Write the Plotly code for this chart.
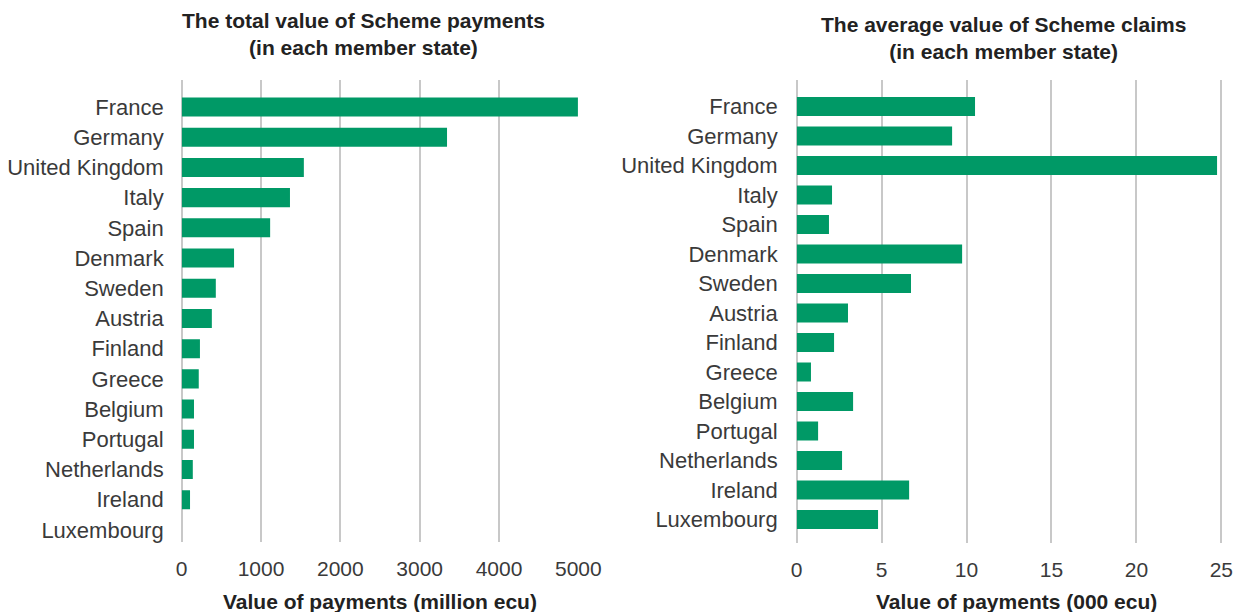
import plotly.graph_objects as go

# Member states, top to bottom
countries = ["France", "Germany", "United Kingdom", "Italy", "Spain", "Denmark",
             "Sweden", "Austria", "Finland", "Greece", "Belgium", "Portugal",
             "Netherlands", "Ireland", "Luxembourg"]

# Total value of Scheme payments (million ecu)
total_payments = [4995, 3345, 1540, 1365, 1115, 660, 430, 380, 230, 215,
                  155, 155, 140, 105, 0]

# Average value of Scheme claims (000 ecu)
average_claims = [10.5, 9.15, 24.75, 2.08, 1.9, 9.74, 6.73, 3.02, 2.2, 0.84,
                  3.32, 1.26, 2.67, 6.62, 4.79]

left_ticks = [0, 1000, 2000, 3000, 4000, 5000]
right_ticks = [0, 5, 10, 15, 20, 25]

W, H = 1235, 612
GREEN = "#009966"
GRID = "#c8c8c8"
TEXT = "#3a3a3a"
FONT = "Liberation Sans, Arial, sans-serif"

fig = go.Figure()
fig.add_trace(go.Bar(x=total_payments, y=countries, orientation="h",
                     marker=dict(color=GREEN, line=dict(width=0)),
                     width=0.63, xaxis="x", yaxis="y", showlegend=False))
fig.add_trace(go.Bar(x=average_claims, y=countries, orientation="h",
                     marker=dict(color=GREEN, line=dict(width=0)),
                     width=0.645, xaxis="x2", yaxis="y2", showlegend=False))

axis_common = dict(showgrid=True, gridcolor=GRID, gridwidth=1.5,
                   zeroline=True, zerolinecolor=GRID, zerolinewidth=1.5,
                   showline=False, ticks="", automargin=False,
                   tickfont=dict(family=FONT, size=21, color=TEXT))

cat_common = dict(type="category", categoryorder="array", categoryarray=countries,
                  showgrid=False, zeroline=False, showline=False, ticks="",
                  automargin=False,
                  tickfont=dict(family=FONT, size=22, color=TEXT))

def px_x(p):
    return p / W

def px_y(p):
    return 1 - p / H

fig.update_layout(
    width=W, height=H,
    margin=dict(l=0, r=0, t=0, b=0, autoexpand=False),
    paper_bgcolor="white", plot_bgcolor="white",
    font=dict(family=FONT, color=TEXT),
    xaxis=dict(domain=[px_x(181.7), px_x(579.1)], range=[0, 5010],
               tickvals=left_ticks, ticklabelstandoff=12, anchor="y",
               **axis_common),
    yaxis=dict(domain=[px_y(542), px_y(80)], range=[14.4, -0.894],
               ticklabelstandoff=17, anchor="x", **cat_common),
    xaxis2=dict(domain=[px_x(796.7), px_x(1223.0)], range=[0, 25.1],
                tickvals=right_ticks, ticklabelstandoff=12, anchor="y2",
                **axis_common),
    yaxis2=dict(domain=[px_y(543), px_y(80)], range=[14.8, -0.898],
                ticklabelstandoff=18, anchor="x2", **cat_common),
)

title_font = dict(family=FONT, size=21, color="#222222")
annotations = [
    dict(text="<b>The total value of Scheme payments<br>(in each member state)</b>",
         x=px_x(363), y=px_y(34)),
    dict(text="<b>The average value of Scheme claims<br>(in each member state)</b>",
         x=px_x(1003), y=px_y(38)),
    dict(text="<b>Value of payments (million ecu)</b>", x=px_x(379.5), y=px_y(601)),
    dict(text="<b>Value of payments (000 ecu)</b>", x=px_x(1016), y=px_y(601)),
]
for a in annotations:
    fig.add_annotation(xref="paper", yref="paper", showarrow=False,
                       xanchor="center", yanchor="middle", align="center",
                       font=title_font, **a)

fig.write_html("out.html")
